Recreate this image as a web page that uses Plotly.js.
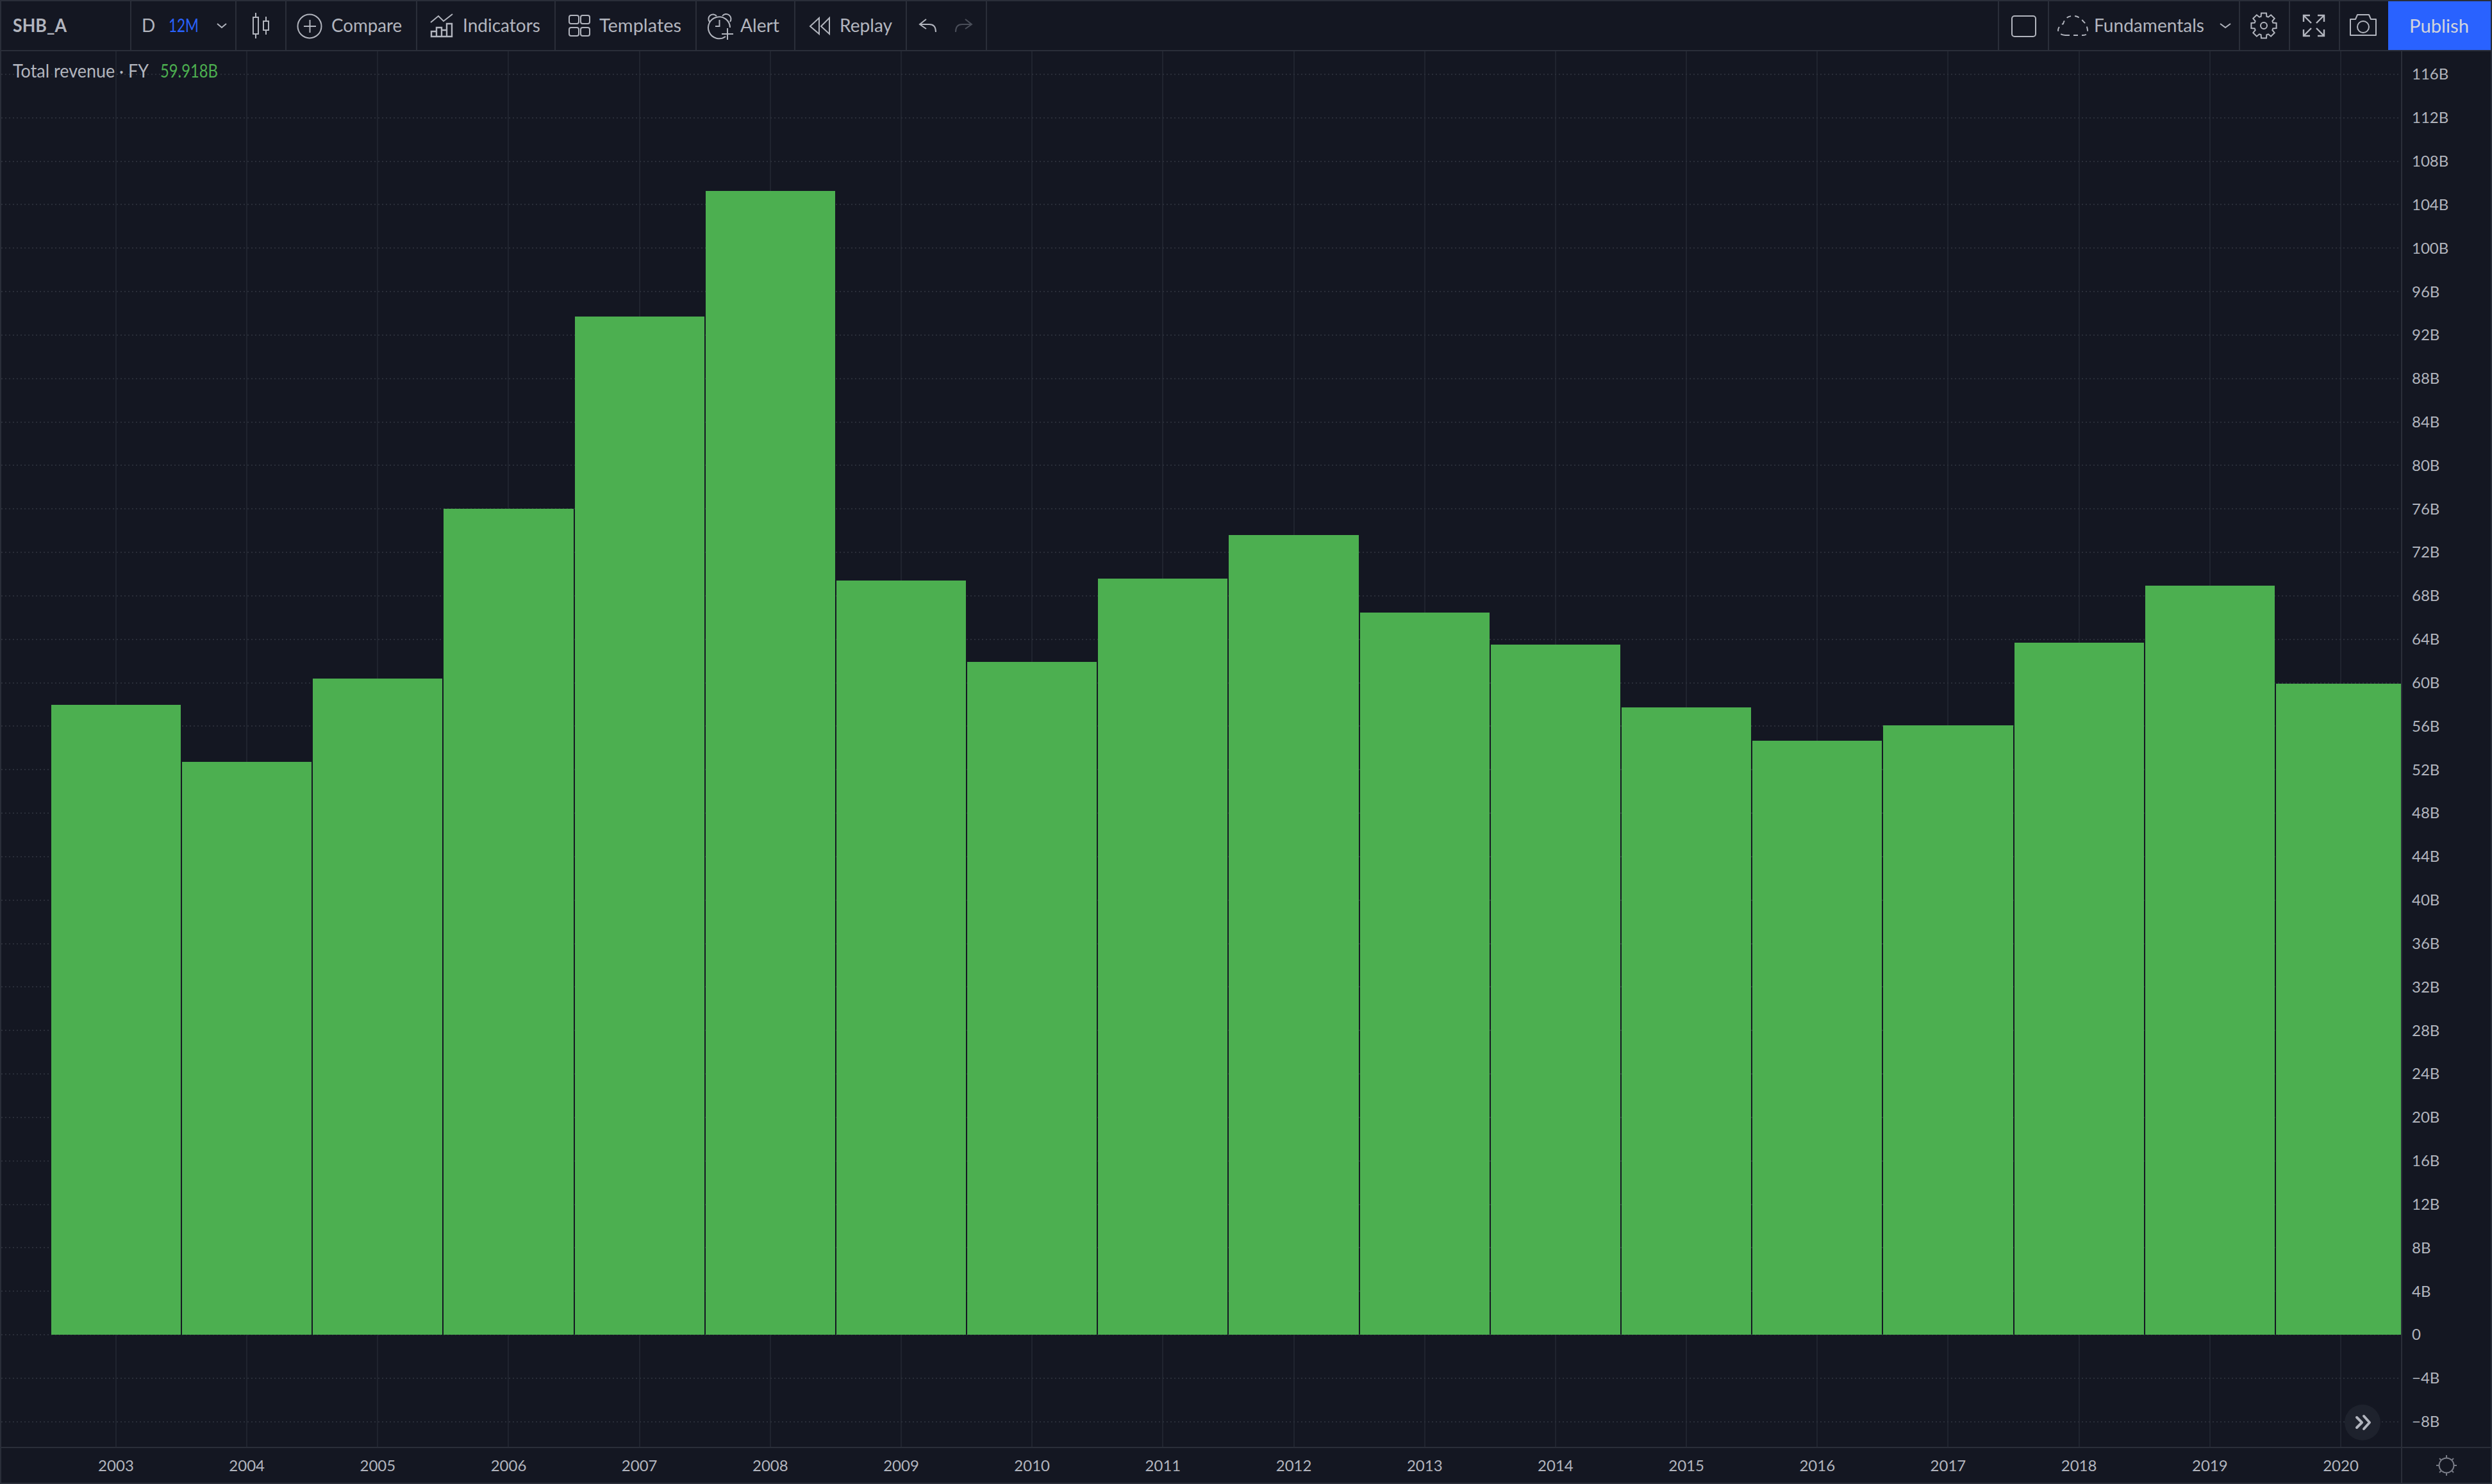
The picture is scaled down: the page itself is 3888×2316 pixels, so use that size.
<!DOCTYPE html>
<html>
<head>
<meta charset="utf-8">
<script src="https://cdn.plot.ly/plotly-3.0.1.min.js"></script>
<style>
html,body{margin:0;padding:0;background:#141722;width:3888px;height:2316px;overflow:hidden}
#plot{position:absolute;left:0;top:0;width:3888px;height:2316px}
#chrome{position:absolute;left:0;top:0;pointer-events:none}
#chrome text{font-family:"Lato",sans-serif;font-size:28px;fill:#b2b5be}
.ic{fill:none;stroke:#b2b5be;stroke-width:2}
</style>
</head>
<body>
<div id="plot"></div>
<svg id="chrome" width="3888" height="2316" xmlns="http://www.w3.org/2000/svg">
  <g fill="#2a2e39" stroke="none">
    <rect x="0" y="0" width="3888" height="2"/>
    <rect x="0" y="78" width="3888" height="2"/>
    <rect x="0" y="2314" width="3888" height="2"/>
    <rect x="0" y="0" width="2" height="2316"/>
    <rect x="3886" y="0" width="2" height="2316"/>
    <rect x="0" y="2258" width="3888" height="2"/>
    <rect x="3746" y="80" width="2" height="2236"/>
    <rect x="203" y="2" width="2" height="76"/>
    <rect x="367" y="2" width="2" height="76"/>
    <rect x="445" y="2" width="2" height="76"/>
    <rect x="649" y="2" width="2" height="76"/>
    <rect x="865" y="2" width="2" height="76"/>
    <rect x="1085" y="2" width="2" height="76"/>
    <rect x="1239" y="2" width="2" height="76"/>
    <rect x="1413" y="2" width="2" height="76"/>
    <rect x="1538" y="2" width="2" height="76"/>
    <rect x="3117" y="2" width="2" height="76"/>
    <rect x="3195" y="2" width="2" height="76"/>
    <rect x="3493" y="2" width="2" height="76"/>
    <rect x="3571" y="2" width="2" height="76"/>
    <rect x="3649" y="2" width="2" height="76"/>
  </g>
  <rect x="3726" y="2" width="160" height="76" fill="#2962ff"/>

  <text x="20" y="50" textLength="84" lengthAdjust="spacingAndGlyphs" style="font-weight:700">SHB_A</text>
  <text x="221" y="50">D</text>
  <text x="263" y="50" textLength="47" lengthAdjust="spacingAndGlyphs" style="fill:#2962ff">12M</text>
  <text x="517" y="50" textLength="110" lengthAdjust="spacingAndGlyphs">Compare</text>
  <text x="722" y="50" textLength="121" lengthAdjust="spacingAndGlyphs">Indicators</text>
  <text x="935" y="50" textLength="128" lengthAdjust="spacingAndGlyphs">Templates</text>
  <text x="1155" y="50" textLength="61" lengthAdjust="spacingAndGlyphs">Alert</text>
  <text x="1310" y="50" textLength="82" lengthAdjust="spacingAndGlyphs">Replay</text>
  <text x="3267" y="50" textLength="172" lengthAdjust="spacingAndGlyphs">Fundamentals</text>
  <text x="3759" y="51" textLength="93" lengthAdjust="spacingAndGlyphs" style="fill:#d1d4dc">Publish</text>
  <text x="20" y="121" textLength="212" lengthAdjust="spacingAndGlyphs">Total revenue · FY</text>
  <text x="250" y="121" textLength="90" lengthAdjust="spacingAndGlyphs" style="fill:#4caf50">59.918B</text>

  <g class="ic">
    <path d="M339 37 L346 43 L353 37"/>
    <rect x="395" y="27" width="8" height="26"/><path d="M399 20V27M399 53V60"/>
    <rect x="411" y="33" width="8" height="14"/><path d="M415 26V33M415 47V54"/>
    <circle cx="483" cy="41" r="18.5"/><path d="M474 41H493M483.5 31V51"/>
    <path d="M672 35L684 25L692 33L706 22"/>
    <path d="M673 57V49H681V43H689V47H697V37H705V57ZM681 49V57M689 47V57M697 47V57" stroke-width="2.4"/>
    <rect x="888" y="24" width="15" height="13" rx="3"/><rect x="906" y="24" width="14" height="13" rx="3"/>
    <rect x="888" y="43" width="15" height="13" rx="3"/><rect x="906" y="43" width="14" height="13" rx="3"/>
    <path d="M1132 57 A17 17 0 1 1 1139 43"/>
    <path d="M1122.5 31V41H1116"/>
    <path d="M1107 34 A7 7 0 0 1 1118 25M1127 25 A7 7 0 0 1 1139 34"/>
    <path d="M1126 53H1144M1135 44V62"/>
    <path d="M1278 28L1264 41L1278 53ZM1294 28L1281 41L1294 53Z"/>
    <path d="M1445 30L1435 38L1445 45M1435 38H1450Q1460 38 1460 50"/>
    <rect x="3139" y="25" width="37" height="32" rx="4"/>
    <path d="M3222 55H3250Q3258 55 3257 47Q3256 38 3250 33Q3243 24 3232 25Q3222 26 3219 37Q3212 40 3211 47Q3212 54 3222 55Z" stroke-dasharray="7 6"/>
    <path d="M3464 37L3472 43L3480 37"/>
    <path id="gear" d=""/><circle cx="3532" cy="40" r="5"/>
    <path d="M3594 34V24H3604M3594 24L3606 36M3616 24H3626V34M3626 24L3614 36M3594 46V56H3604M3594 56L3606 44M3616 56H3626V46M3626 56L3614 44" stroke-width="2.4"/>
    <path d="M3667 30H3675L3678 23H3696L3699 30H3707V55H3667Z" stroke-linejoin="round"/><circle cx="3687" cy="42" r="9"/>
    <g stroke="#787b86"><circle cx="3817" cy="2287" r="11.5"/><path d="M3817 2271V2276M3817 2298V2303M3801 2287H3806M3828 2287H3833M3806 2276L3809 2279M3825 2295L3828 2298M3828 2276L3825 2279M3809 2295L3806 2298"/></g>
  </g>
  <path d="M1505 50Q1505 38 1515 38H1530M1520 30L1530 38L1520 45" transform="translate(-14,0)" fill="none" stroke="#4a4e59" stroke-width="2"/>
  <circle cx="3686" cy="2220" r="28" fill="#1e222d"/>
  <path d="M3677 2212L3685 2220L3677 2228M3688 2210L3697 2220L3688 2230" fill="none" stroke="#b2b5be" stroke-width="4" stroke-linecap="round" stroke-linejoin="round"/>
</svg>
<script>
// Chart values (billions)
const years = [2003,2004,2005,2006,2007,2008,2009,2010,2011,2012,2013,2014,2015,2016,2017,2018,2019,2020];
const revenue = [57.97,52.73,60.40,76.03,93.72,105.26,69.41,61.92,69.58,73.59,66.46,63.51,57.73,54.66,56.08,63.69,68.94,59.918];
const yTickVals = [116,112,108,104,100,96,92,88,84,80,76,72,68,64,60,56,52,48,44,40,36,32,28,24,20,16,12,8,4,0,-4,-8];
const yTickText = ["116B","112B","108B","104B","100B","96B","92B","88B","84B","80B","76B","72B","68B","64B","60B","56B","52B","48B","44B","40B","36B","32B","28B","24B","20B","16B","12B","8B","4B","0","−4B","−8B"];

(function(){
  let d='';const cx=3532,cy=40,n=8;
  for(let i=0;i<n;i++){
    const a=i*2*Math.PI/n;
    const pts=[[-0.30,15],[-0.20,20],[0.20,20],[0.30,15]];
    pts.forEach((p,j)=>{
      const t=a+p[0];
      d+=((i===0&&j===0)?'M':'L')+(cx+p[1]*Math.sin(t)).toFixed(1)+' '+(cy-p[1]*Math.cos(t)).toFixed(1);
    });
  }
  document.getElementById('gear').setAttribute('d',d+'Z');
})();

const tickFont = {family:'"Lato",sans-serif', size:24, color:'#b2b5be'};
Plotly.newPlot('plot',[{
  type:'bar', x:years, y:revenue, width:0.9902,
  marker:{color:'#4caf50', line:{width:0}},
  hoverinfo:'skip'
}],{
  width:3888, height:2316,
  margin:{l:2,r:142,t:80,b:58,pad:0},
  paper_bgcolor:'#141722', plot_bgcolor:'#141722',
  showlegend:false, bargap:0,
  xaxis:{
    type:'linear', range:[2002.1235,2020.4605], tickmode:'array', tickvals:years, ticktext:years.map(String),
    showgrid:true, gridcolor:'#20242f', gridwidth:2, zeroline:false, showline:false,
    ticks:'', tickfont:tickFont, ticklabelstandoff:13
  },
  yaxis:{
    side:'right', range:[-10.32,118.12], tickmode:'array', tickvals:yTickVals, ticktext:yTickText,
    showgrid:true, gridcolor:'#2a2e39', gridwidth:2, griddash:'2px,4px', zeroline:false, showline:false,
    ticks:'', tickfont:tickFont, ticklabelstandoff:16
  }
},{displayModeBar:false,staticPlot:true});
</script>
</body>
</html>
